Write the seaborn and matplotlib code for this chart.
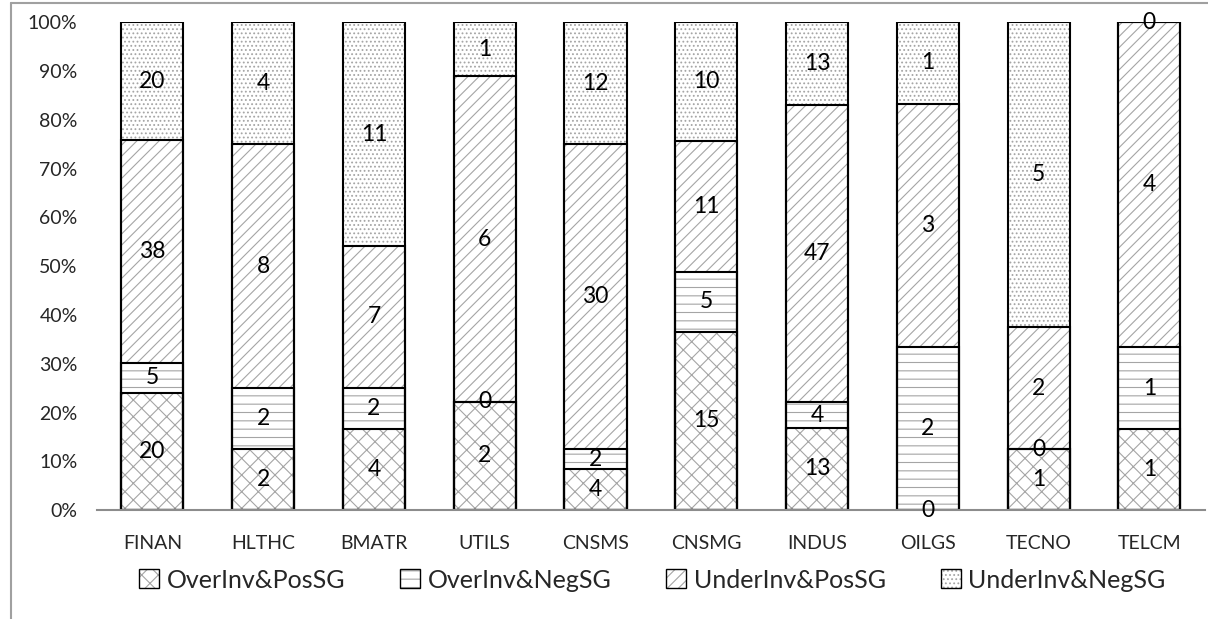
import numpy as np
import pandas as pd
import seaborn as sns
import matplotlib.pyplot as plt
import matplotlib.patches as patches
from matplotlib.lines import Line2D

# データ
sectors = ["FINAN", "HLTHC", "BMATR", "UTILS", "CNSMS",
           "CNSMG", "INDUS", "OILGS", "TECNO", "TELCM"]
over_pos = [20, 2, 4, 2, 4, 15, 13, 0, 1, 1]
over_neg = [5, 2, 2, 0, 2, 5, 4, 2, 0, 1]
under_pos = [38, 8, 7, 6, 30, 11, 47, 3, 2, 4]
under_neg = [20, 4, 11, 1, 12, 10, 13, 1, 5, 0]

series_names = ["OverInv&PosSG", "OverInv&NegSG", "UnderInv&PosSG", "UnderInv&NegSG"]
hatches = ["xx", "--", "///", "...."]
hatch_gray = "#a5a5a5"

sns.set_style("white")
plt.rcParams['font.family'] = ['Lato', 'DejaVu Sans']
plt.rcParams['hatch.linewidth'] = 0.8

counts = np.array([over_pos, over_neg, under_pos, under_neg], dtype=float)
pct = counts / counts.sum(axis=0) * 100
cum = np.cumsum(pct, axis=0)

df = pd.DataFrame({"sector": sectors})
for k, name in enumerate(series_names):
    df[name] = cum[k]

fig = plt.figure(figsize=(12.08, 6.19), dpi=100)
ax = fig.add_axes([0.0803, 0.176, 0.917, 0.788])

# 上の系列から順に重ねて描く（累積値）、ハッチは灰色
for k in range(3, -1, -1):
    sns.barplot(data=df, x="sector", y=series_names[k], ax=ax,
                color="white", saturation=1, width=0.56,
                edgecolor=hatch_gray, linewidth=0, hatch=hatches[k])

# 黒い枠線
for k in range(3, -1, -1):
    sns.barplot(data=df, x="sector", y=series_names[k], ax=ax,
                color="black", fill=False, width=0.56, linewidth=1.5)

# ラベル
for i in range(len(sectors)):
    for k in range(4):
        lo = cum[k - 1][i] if k > 0 else 0
        mid = (lo + cum[k][i]) / 2
        ax.text(i, mid, str(int(counts[k][i])), ha="center", va="center",
                fontsize=16.5, color="black")

ax.set_ylim(0, 100)
ax.set_xlim(-0.5, len(sectors) - 0.5)
ax.set_yticks(range(0, 101, 10))
ax.set_yticklabels([str(v) + "%" for v in range(0, 101, 10)], fontsize=14)
ax.set_xticks(range(len(sectors)))
ax.set_xticklabels(sectors, fontsize=14)
ax.tick_params(axis="x", length=0, pad=18)
ax.tick_params(axis="y", length=0, pad=14)
ax.set_xlabel("")
ax.set_ylabel("")
for s in ["top", "right", "left"]:
    ax.spines[s].set_visible(False)
ax.spines["bottom"].set_color("#8c8c8c")
ax.spines["bottom"].set_linewidth(1.5)

handles = [(patches.Patch(facecolor="white", edgecolor=hatch_gray, hatch=h, linewidth=0),
            patches.Patch(facecolor="none", edgecolor="black", linewidth=1))
           for h in hatches]
fig.legend(handles, series_names, loc="center", bbox_to_anchor=(0.54, 0.063),
           ncol=4, frameon=False, fontsize=18, handlelength=0.8, handleheight=0.8,
           handletextpad=0.3, columnspacing=2.2)

# 外枠
fig.add_artist(Line2D([11 / 1208, 11 / 1208], [0, 1 - 3 / 619], color="#a0a0a0", linewidth=1.5))
fig.add_artist(Line2D([11 / 1208, 1], [1 - 3 / 619, 1 - 3 / 619], color="#a0a0a0", linewidth=1.5))

plt.savefig("out.png")
plt.close()
